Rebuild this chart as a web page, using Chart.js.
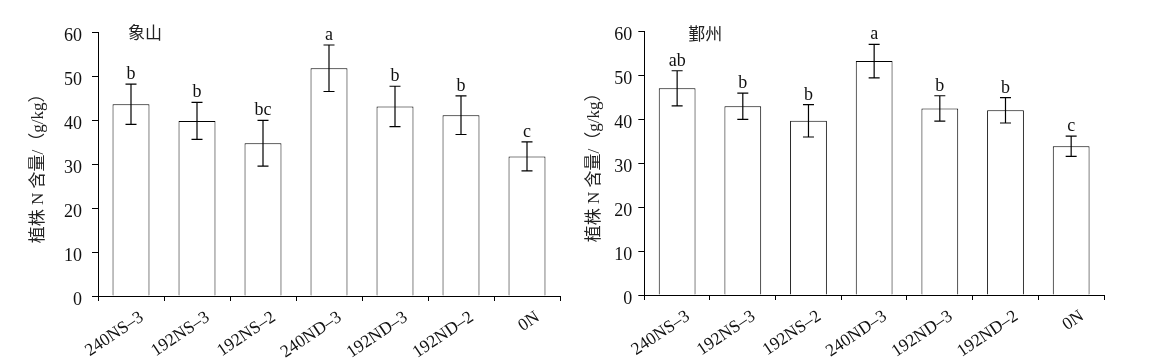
<!DOCTYPE html>
<html><head><meta charset="utf-8">
<script src="https://cdn.jsdelivr.net/npm/chart.js@4"></script>
<style>
body{margin:0;background:#fff;width:1153px;height:362px;overflow:hidden;position:relative}
#c1{position:absolute;left:0;top:0}
#c2{position:absolute;left:576px;top:0}
</style>
</head><body>
<canvas id="c1" width="576" height="362"></canvas>
<canvas id="c2" width="577" height="362"></canvas>
<script>
const categories = ['240NS–3','192NS–3','192NS–2','240ND–3','192ND–3','192ND–2','0N'];
const xiangshanValues = [43.7, 39.9, 34.8, 51.9, 43.2, 41.2, 31.8];
const xiangshanErrors = [4.6, 4.2, 5.2, 5.3, 4.6, 4.4, 3.3];
const xiangshanLetters = ['b','b','bc','a','b','b','c'];
const yinzhouValues = [47.1, 43.0, 39.7, 53.3, 42.5, 42.1, 33.9];
const yinzhouErrors = [4.0, 3.0, 3.7, 3.8, 2.9, 2.9, 2.3];
const yinzhouLetters = ['ab','b','b','a','b','b','c'];
const yTickValues = [0, 10, 20, 30, 40, 50, 60];
const yAxisTitle = '植株 N 含量/（g/kg）';
const siteNames = ['象山', '鄞州'];

const SERIF = '"Liberation Serif", "Times New Roman", "Noto Sans CJK SC", serif';

const annotatePlugin = {
  id: 'annot',
  afterDatasetsDraw(chart, args, opts) {
    const {ctx} = chart;
    const y = chart.scales.y;
    const meta = chart.getDatasetMeta(0);
    ctx.save();
    ctx.strokeStyle = '#000';
    ctx.lineWidth = 1.2;
    meta.data.forEach((bar, i) => {
      const v = opts.values[i], e = opts.errors[i];
      const yt = y.getPixelForValue(v + e), yb = y.getPixelForValue(v - e);
      const cx = bar.x;
      ctx.beginPath();
      ctx.moveTo(cx, yt); ctx.lineTo(cx, yb);
      ctx.moveTo(cx - 5.5, yt); ctx.lineTo(cx + 5.5, yt);
      ctx.moveTo(cx - 5.5, yb); ctx.lineTo(cx + 5.5, yb);
      ctx.stroke();
      ctx.fillStyle = '#111';
      ctx.font = '18px ' + SERIF;
      ctx.textAlign = 'center';
      ctx.textBaseline = 'alphabetic';
      ctx.fillText(opts.letters[i], cx, yt - 5);
    });
    ctx.font = '17px "Noto Sans CJK SC", sans-serif';
    ctx.textAlign = 'left';
    ctx.textBaseline = 'middle';
    ctx.fillStyle = '#222';
    ctx.fillText(opts.site, chart.chartArea.left + opts.siteDx, opts.siteY);
    ctx.restore();
  }
};

function makeChart(id, values, errors, letters, site, g) {
  return new Chart(document.getElementById(id), {
    type: 'bar',
    data: {
      labels: categories,
      datasets: [{
        data: values,
        backgroundColor: '#fff',
        borderColor: '#000',
        borderWidth: 1,
        borderSkipped: 'bottom',
        categoryPercentage: 1,
        barPercentage: 0.56
      }]
    },
    options: {
      responsive: false,
      animation: false,
      devicePixelRatio: 1,
      layout: { padding: { left: 0, top: g.top, right: g.right, bottom: 0 } },
      plugins: {
        legend: { display: false },
        tooltip: { enabled: false },
        annot: { values, errors, letters, site, siteDx: g.siteDx, siteY: g.siteY }
      },
      scales: {
        x: {
          offset: true,
          grid: {
            offset: true,
            drawOnChartArea: false,
            drawTicks: true,
            tickLength: 5,
            tickColor: (ctx) => ctx.index >= categories.length ? 'rgba(0,0,0,0)' : '#000'
          },
          border: { display: true, color: '#000', width: 1, z: 1 },
          ticks: {
            color: '#111',
            font: { family: SERIF, size: 17.5 },
            minRotation: 34, maxRotation: 34,
            padding: 6,
            labelOffset: 11,
            autoSkip: false
          },
          afterFit: (s) => { s.height = g.xh; }
        },
        y: {
          min: 0, max: 60,
          afterBuildTicks: (s) => { s.ticks = yTickValues.map(v => ({value: v})); },
          grid: { drawOnChartArea: false, drawTicks: true, tickLength: 6, tickColor: '#000' },
          border: { display: true, color: '#000', width: 1 },
          ticks: {
            color: '#111',
            font: { family: SERIF, size: 18 },
            padding: g.tickPad,
            labelOffset: 4
          },
          title: {
            display: true,
            text: yAxisTitle,
            color: '#222',
            font: { family: SERIF, size: 17 },
            padding: { top: g.titlePad, bottom: 0 }
          },
          afterFit: (s) => { s.width = g.yw; }
        }
      }
    },
    plugins: [annotatePlugin]
  });
}

makeChart('c1', xiangshanValues, xiangshanErrors, xiangshanLetters, siteNames[0],
  { top: 32.7, right: 16, xh: 66, yw: 98, tickPad: 10, titlePad: 28, siteDx: 30, siteY: 33 });
makeChart('c2', yinzhouValues, yinzhouErrors, yinzhouLetters, siteNames[1],
  { top: 31.7, right: 49, xh: 67, yw: 68.3, tickPad: 6, titlePad: 8, siteDx: 44, siteY: 34 });
</script>
</body></html>
